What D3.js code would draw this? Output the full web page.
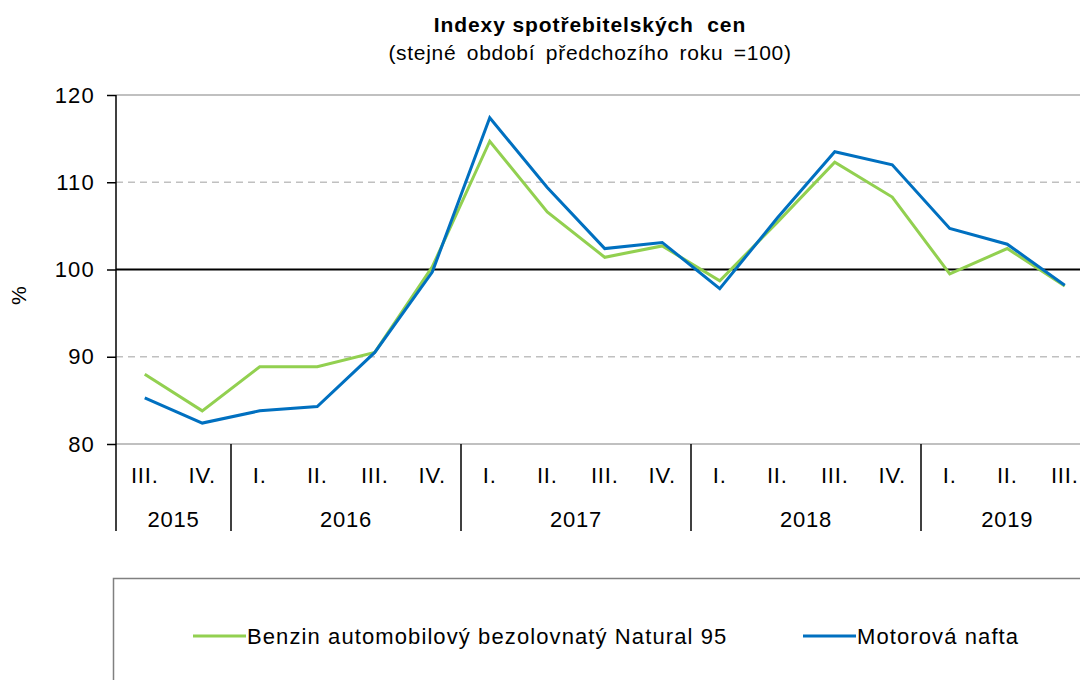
<!DOCTYPE html>
<html>
<head>
<meta charset="utf-8">
<script src="https://cdn.jsdelivr.net/npm/d3@7"></script>
<style>
  body { margin: 0; background: #fff; }
  svg { display: block; font-family: "Liberation Sans", Arial, sans-serif; }
</style>
</head>
<body>
<div id="chart"></div>
<script>
// Layout
const width = 1080;
const height = 680;

// Data
const quarters = ["III.", "IV.", "I.", "II.", "III.", "IV.", "I.", "II.", "III.", "IV.", "I.", "II.", "III.", "IV.", "I.", "II.", "III."];
const years = ["2015", "2016", "2017", "2018", "2019"];
const quartersPerYear = [2, 4, 4, 4, 3];
const benzin = [88.0, 83.8, 88.85, 88.85, 90.5, 100.3, 114.7, 106.6, 101.4, 102.7, 98.7, 105.4, 112.3, 108.3, 99.5, 102.4, 98.1];
const nafta = [85.3, 82.4, 83.8, 84.3, 90.5, 99.7, 117.4, 109.4, 102.4, 103.1, 97.8, 105.9, 113.5, 112.0, 104.7, 102.9, 98.2];
const yTicks = [80, 90, 100, 110, 120];
const seriesNames = ["Benzin automobilový bezolovnatý Natural 95", "Motorová nafta"];

const green = "#92d050";
const blue = "#0070c0";

// Scales
const plotLeft = 116;
const step = 57.5;
const idx = d3.range(quarters.length);

const x = d3.scaleBand()
  .domain(idx)
  .range([plotLeft, plotLeft + step * quarters.length]);

const y = d3.scaleLinear()
  .domain([80, 120])
  .range([444, 95]);

const svg = d3.select("#chart").append("svg")
  .attr("width", width)
  .attr("height", height);

// Title (text is a bit stretched in the original, hence the spacing)
svg.append("text")
  .attr("x", 590).attr("y", 32)
  .attr("text-anchor", "middle")
  .style("font-weight", "bold")
  .style("font-size", "21px")
  .style("letter-spacing", "0.9px")
  .style("white-space", "pre")
  .text("Indexy spotřebitelských  cen");

svg.append("text")
  .attr("x", 590).attr("y", 60)
  .attr("text-anchor", "middle")
  .style("font-size", "21px")
  .style("letter-spacing", "0.7px")
  .style("word-spacing", "4px")
  .text("(stejné období předchozího roku =100)");

// Grid
const grid = svg.append("g");
grid.selectAll("line").data(yTicks).join("line")
  .attr("x1", plotLeft).attr("x2", width)
  .attr("y1", d => y(d)).attr("y2", d => y(d))
  .attr("stroke", d => d === 100 ? "#000" : "#c0c0c0")
  .attr("stroke-width", d => d === 100 ? 2 : (d === 90 || d === 110 ? 1.5 : 2))
  .attr("stroke-dasharray", d => (d === 90 || d === 110) ? "7,5" : null);

// Y axis
const yAxis = d3.axisLeft(y).tickValues(yTicks).tickSize(9).tickPadding(12);
svg.append("g")
  .attr("transform", `translate(${plotLeft},0)`)
  .call(yAxis)
  .call(g => g.select(".domain").remove())
  .call(g => g.selectAll("text")
    .style("font-size", "22px")
    .style("letter-spacing", "1.2px")
    .attr("fill", "#000")
    .attr("font-family", null))
  .call(g => g.selectAll("line").attr("stroke-width", 1.5));

svg.append("line")
  .attr("x1", plotLeft).attr("x2", plotLeft)
  .attr("y1", y(120)).attr("y2", 531)
  .attr("stroke", "#000").attr("stroke-width", 1.5);

svg.append("text")
  .attr("transform", `translate(26,${y(97)}) rotate(-90)`)
  .attr("text-anchor", "middle")
  .style("font-size", "21px")
  .text("%");

// X labels
svg.append("g").selectAll("text").data(idx).join("text")
  .attr("x", d => x(d) + x.bandwidth() / 2)
  .attr("y", 483)
  .attr("text-anchor", "middle")
  .style("font-size", "22px")
  .style("letter-spacing", "0.8px")
  .text(d => quarters[d]);

const bounds = [];
let acc = 0;
quartersPerYear.forEach(n => { bounds.push([acc, acc + n]); acc += n; });

svg.append("g").selectAll("text").data(years).join("text")
  .attr("x", (d, i) => (x(bounds[i][0]) + x(bounds[i][1] - 1) + x.bandwidth()) / 2)
  .attr("y", 527)
  .attr("text-anchor", "middle")
  .style("font-size", "22px")
  .style("letter-spacing", "0.8px")
  .text(d => d);

svg.append("g").selectAll("line").data(bounds.slice(1)).join("line")
  .attr("x1", d => x(d[0])).attr("x2", d => x(d[0]))
  .attr("y1", y(80)).attr("y2", 531)
  .attr("stroke", "#000").attr("stroke-width", 1.5);

// Lines
const line = d3.line()
  .x((d, i) => x(i) + x.bandwidth() / 2)
  .y(d => y(d));

svg.append("path").datum(benzin)
  .attr("d", line)
  .attr("fill", "none")
  .attr("stroke", green)
  .attr("stroke-width", 3);

svg.append("path").datum(nafta)
  .attr("d", line)
  .attr("fill", "none")
  .attr("stroke", blue)
  .attr("stroke-width", 3);

// Legend
svg.append("rect")
  .attr("x", 113.5).attr("y", 578.5)
  .attr("width", 1000).attr("height", 200)
  .attr("fill", "none")
  .attr("stroke", "#808080")
  .attr("stroke-width", 1.5);

const legendItems = [
  { name: seriesNames[0], color: green, x1: 193, x2: 246 },
  { name: seriesNames[1], color: blue, x1: 803, x2: 856 }
];

const lg = svg.append("g").selectAll("g").data(legendItems).join("g");
lg.append("line")
  .attr("x1", d => d.x1).attr("x2", d => d.x2)
  .attr("y1", 636).attr("y2", 636)
  .attr("stroke", d => d.color)
  .attr("stroke-width", 3);
lg.append("text")
  .attr("x", d => d.x2 + 1)
  .attr("y", 644)
  .style("font-size", "22px")
  .style("letter-spacing", "1.1px")
  .text(d => d.name);
</script>
</body>
</html>
